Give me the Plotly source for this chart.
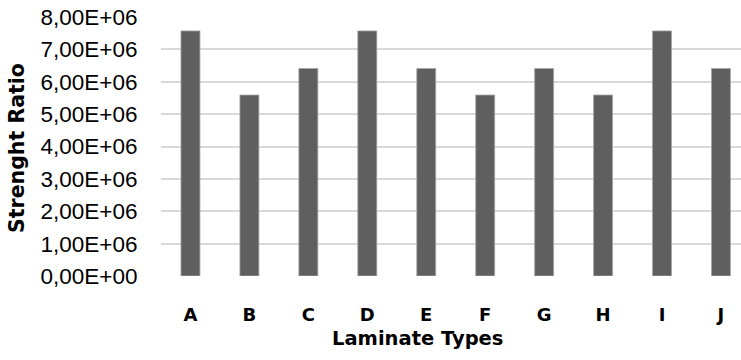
import plotly.graph_objects as go

categories = ["A", "B", "C", "D", "E", "F", "G", "H", "I", "J"]
strength_ratio = [7.57e6, 5.59e6, 6.41e6, 7.57e6, 6.41e6, 5.59e6, 6.41e6, 5.59e6, 7.57e6, 6.41e6]
y_tick_values = [0, 1e6, 2e6, 3e6, 4e6, 5e6, 6e6, 7e6, 8e6]
y_tick_labels = ["0,00E+00", "1,00E+06", "2,00E+06", "3,00E+06", "4,00E+06",
                 "5,00E+06", "6,00E+06", "7,00E+06", "8,00E+06"]

fig = go.Figure()
fig.add_trace(go.Bar(
    x=categories, y=strength_ratio,
    marker=dict(color="#5f5f5f", line=dict(color="#a6a6a6", width=0.8)),
))

fig.update_layout(
    width=741, height=360,
    margin=dict(l=161, r=0, t=17, b=84),
    paper_bgcolor="white", plot_bgcolor="white",
    bargap=0.678,
    showlegend=False,
    xaxis=dict(
        type="category",
        range=[-0.5, 9.34],
        showgrid=False, zeroline=False, showline=False,
        ticks="outside", ticklen=22, tickcolor="rgba(0,0,0,0)",
        tickfont=dict(family="DejaVu Sans", size=18, color="black", weight="bold"),
    ),
    yaxis=dict(
        range=[0, 8e6],
        tickvals=y_tick_values, ticktext=y_tick_labels,
        showgrid=True, gridcolor="#d9d9d9", gridwidth=1.5,
        zeroline=False, showline=False,
        ticks="outside", ticklen=18, tickcolor="rgba(0,0,0,0)",
        tickfont=dict(family="Liberation Sans, Arial, sans-serif", size=22.5, color="black"),
    ),
    annotations=[
        dict(text="Laminate Types", xref="paper", yref="paper",
             x=(417 - 161) / 580, y=(276 - 338) / 259,
             xanchor="center", yanchor="middle", showarrow=False,
             font=dict(family="DejaVu Sans", size=19.5, color="black", weight="bold")),
        dict(text="Strenght Ratio", xref="paper", yref="paper",
             x=(17 - 161) / 580, y=(276 - 148) / 259,
             xanchor="center", yanchor="middle", showarrow=False, textangle=-90,
             font=dict(family="DejaVu Sans", size=20.5, color="black", weight="bold")),
    ],
)

fig.write_html("out.html", config={"displayModeBar": False},
               post_script="document.body.style.margin='0';document.body.style.padding='0';")
